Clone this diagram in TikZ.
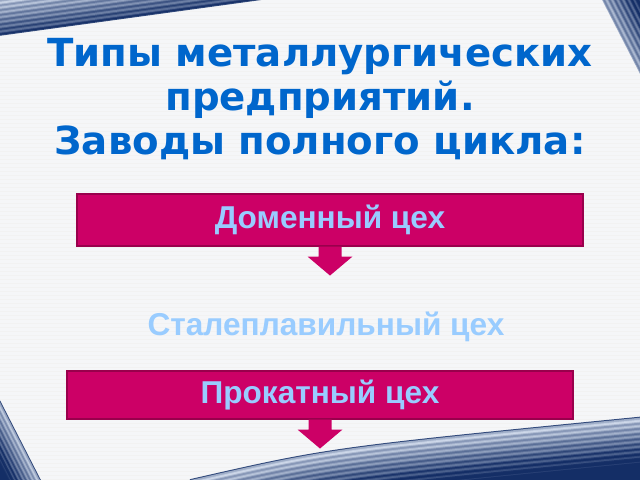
\documentclass[tikz,border=0pt]{standalone}
\usepackage{fontspec}
\setmainfont{DejaVu Sans}
\newfontfamily\titlefont{DejaVu Sans}
\newfontfamily\shopfont{Liberation Sans}
\usetikzlibrary{positioning}

\definecolor{titleblue}{HTML}{0066CC}
\definecolor{shopred}{HTML}{CC0066}
\definecolor{shopedge}{HTML}{99004C}
\definecolor{shoptext}{HTML}{99CCFF}
\definecolor{navy}{HTML}{142E66}
\definecolor{steel}{HTML}{D2DCEC}
\definecolor{paper}{HTML}{F5F6F8}

\begin{document}
\begin{tikzpicture}[x=0.02cm,y=-0.02cm]
  \tikzset{shop/.style = {rectangle,fill=shopred,draw=shopedge,line width=0.6pt,
      text=shoptext,inner sep=0pt,font=\shopfont\bfseries\fontsize{18}{21}\selectfont}}
  \tikzset{label/.style = {text=shoptext,inner sep=0pt,font=\shopfont\bfseries\fontsize{18}{21}\selectfont}}
  \tikzset{band/.style = {line width=0.9pt}}
  \tikzset{flow/.style = {fill=shopred,draw=none}}

  % paper
  \fill[paper] (0,0) rectangle (640,480);
  \useasboundingbox (0,0) rectangle (640,480);
  \foreach \y in {3,7,...,479}
    \draw[gray!10,line width=0.3pt] (0,\y) -- (640,\y);

  % blue bands in the corners
  \begin{scope}
    \clip (0,0) rectangle (640,480);
    \foreach \k in {0,...,36}{
      \pgfmathtruncatemacro\c{max(0,min(100,85-2*\k+18*sin(\k*75)))}
      \draw[band,navy!\c!steel] (-20,37.7-\k) -- (275,-2.7-\k);
    }
    \foreach \k in {0,...,45}{
      \pgfmathtruncatemacro\c{max(0,min(100,30+2*\k+20*sin(\k*65)))}
      \draw[band,navy!\c!steel] (593+\k,-19.5) -- (650+\k,91.5);
    }
    \foreach \k in {0,...,70}{
      \pgfmathtruncatemacro\c{\k==0 ? 85 : max(0,min(100,10+2.2*\k+18*sin(\k*70)))}
      \draw[band,navy!\c!steel] (190,480+\k) .. controls (330,448+\k) .. (645,417+\k);
    }
    \foreach \k in {0,...,45}{
      \pgfmathtruncatemacro\c{\k==0 ? 85 : max(0,min(100,15+3*\k+18*sin(\k*80)))}
      \draw[band,navy!\c!steel] (-5-\k,392.25) -- (45-\k,489.75);
    }
  \end{scope}

  % title
  \node[text=titleblue,align=center,font=\titlefont\bfseries\fontsize{22}{25}\selectfont]
    (title) at (320,99) {Типы металлургических\\предприятий.\\Заводы полного цикла:};

  % shops
  \node[shop,minimum width=506*0.02cm,minimum height=52*0.02cm] (domna) at (330,220) {Доменный цех};
  \node[label] (stal) at (326,327) {Сталеплавильный цех};
  \node[shop,minimum width=506*0.02cm,minimum height=48*0.02cm] (prokat) at (320,395) {Прокатный цех};

  % block arrows under the boxes
  \foreach \shop in {domna,prokat}
    \fill[flow] ([xshift=-11.5*0.02cm]\shop.south) -- ++(0,10) -- ++(-11,0)
      -- ([yshift=-29*0.02cm]\shop.south) -- ++(22.5,-19) -- ++(-11,0)
      -- ([xshift=11.5*0.02cm]\shop.south) -- cycle;
\end{tikzpicture}
\end{document}
